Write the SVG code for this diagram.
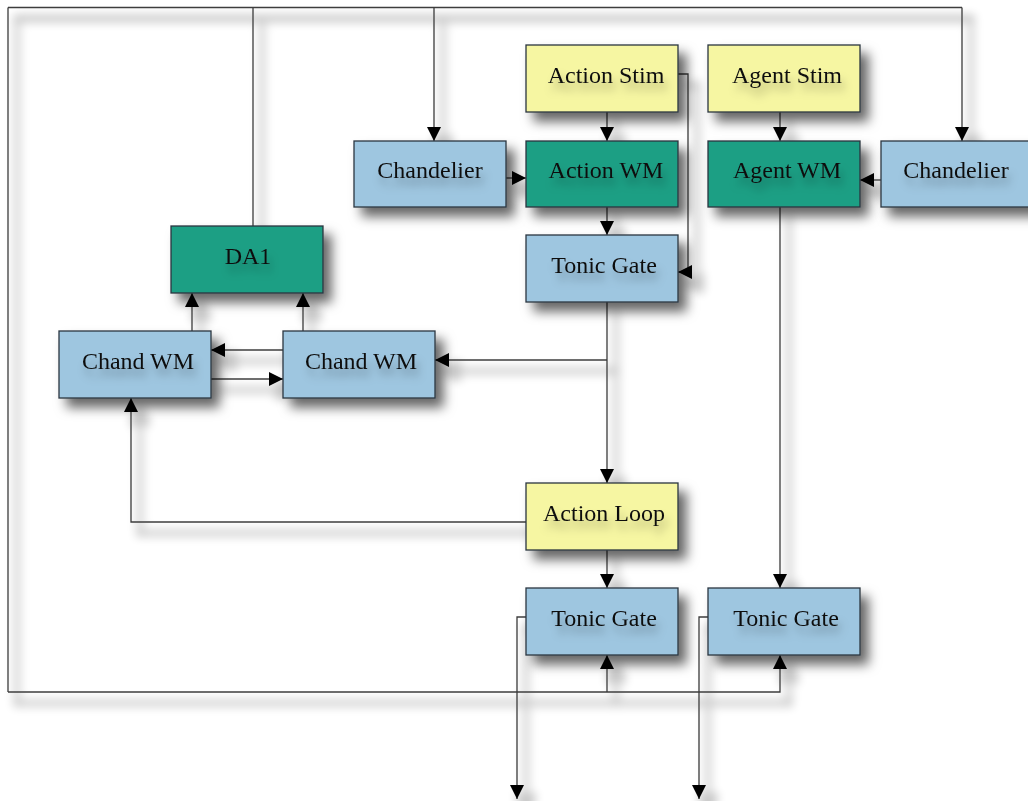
<svg xmlns="http://www.w3.org/2000/svg" width="1028" height="801" viewBox="0 0 1028 801">
<defs>
<style>
.box rect{stroke:#2a3540;stroke-width:1.3;filter:url(#sh)}
.blue rect{fill:#9ec6e0}
.teal rect{fill:#1e9f84}
.yel rect{fill:#f6f6a2}
.box text{font-family:"Liberation Serif","Times New Roman",serif;font-size:24px;fill:#111;text-anchor:middle;filter:url(#tsh)}
.con path{fill:none;stroke:#3c3c3c;stroke-width:1.3}
.arr path{marker-end:url(#ah)}
</style>
<filter id="sh" x="-20%" y="-30%" width="150%" height="190%">
<feDropShadow dx="8" dy="9" stdDeviation="6" flood-color="#000" flood-opacity="0.6"/>
</filter>
<filter id="tsh" x="-20%" y="-50%" width="150%" height="250%">
<feDropShadow dx="3" dy="8" stdDeviation="4" flood-color="#000" flood-opacity="0.3"/>
</filter>
<filter id="lsh" x="-5%" y="-5%" width="110%" height="110%">
<feMorphology in="SourceAlpha" operator="dilate" radius="3" result="d"/>
<feGaussianBlur in="d" stdDeviation="5" result="b"/>
<feOffset dx="9" dy="11" in="b" result="o"/>
<feComponentTransfer in="o" result="c"><feFuncA type="linear" slope="0.22"/></feComponentTransfer>
<feMerge><feMergeNode in="c"/><feMergeNode in="SourceGraphic"/></feMerge>
</filter>
<marker id="ah" markerUnits="userSpaceOnUse" markerWidth="16" markerHeight="16" viewBox="0 0 16 16" refX="15" refY="8" orient="auto">
<path d="M1,1 L15,8 L1,15 Z" fill="#000" stroke="none"/>
</marker>
</defs>
<rect width="1028" height="801" fill="#fff"/>
<g id="connectors" class="con" filter="url(#lsh)">
<path d="M253,226 V7.5"/>
<path d="M8,7.5 H962"/>
<path d="M8,7.5 V692"/>
<g class="arr">
<path d="M8,692 H780 V655"/>
<path d="M607,692 V655"/>
<path d="M434,7.5 V141"/>
<path d="M962,7.5 V141"/>
<path d="M607,112 V141"/>
<path d="M678,74 H688 V272 H678"/>
<path d="M607,207 V235"/>
<path d="M506,178 H526"/>
<path d="M780,112 V141"/>
<path d="M881,180 H860"/>
<path d="M780,207 V588"/>
<path d="M607,302 V483"/>
<path d="M607,360 H435"/>
<path d="M283,350 H211"/>
<path d="M211,379 H283"/>
<path d="M192,331 V293"/>
<path d="M303,331 V293"/>
<path d="M526,522 H131 V398"/>
<path d="M607,550 V588"/>
<path d="M526,617 H517 V799"/>
<path d="M708,617 H699 V799"/>
</g>
</g>
<g id="action-stim" class="box yel"><rect x="526" y="45" width="152" height="67"/><text x="606" y="83">Action Stim</text></g>
<g id="agent-stim" class="box yel"><rect x="708" y="45" width="152" height="67"/><text x="787" y="83">Agent Stim</text></g>
<g id="chandelier-left" class="box blue"><rect x="354" y="141" width="152" height="66"/><text x="430" y="178">Chandelier</text></g>
<g id="action-wm" class="box teal"><rect x="526" y="141" width="152" height="66"/><text x="606" y="178">Action WM</text></g>
<g id="agent-wm" class="box teal"><rect x="708" y="141" width="152" height="66"/><text x="787" y="178">Agent WM</text></g>
<g id="chandelier-right" class="box blue"><rect x="881" y="141" width="152" height="66"/><text x="956" y="178">Chandelier</text></g>
<g id="da1" class="box teal"><rect x="171" y="226" width="152" height="67"/><text x="248" y="264">DA1</text></g>
<g id="tonic-gate-1" class="box blue"><rect x="526" y="235" width="152" height="67"/><text x="604" y="273">Tonic Gate</text></g>
<g id="chand-wm-left" class="box blue"><rect x="59" y="331" width="152" height="67"/><text x="138" y="369">Chand WM</text></g>
<g id="chand-wm-right" class="box blue"><rect x="283" y="331" width="152" height="67"/><text x="361" y="369">Chand WM</text></g>
<g id="action-loop" class="box yel"><rect x="526" y="483" width="152" height="67"/><text x="604" y="521">Action Loop</text></g>
<g id="tonic-gate-2" class="box blue"><rect x="526" y="588" width="152" height="67"/><text x="604" y="626">Tonic Gate</text></g>
<g id="tonic-gate-3" class="box blue"><rect x="708" y="588" width="152" height="67"/><text x="786" y="626">Tonic Gate</text></g>
</svg>
